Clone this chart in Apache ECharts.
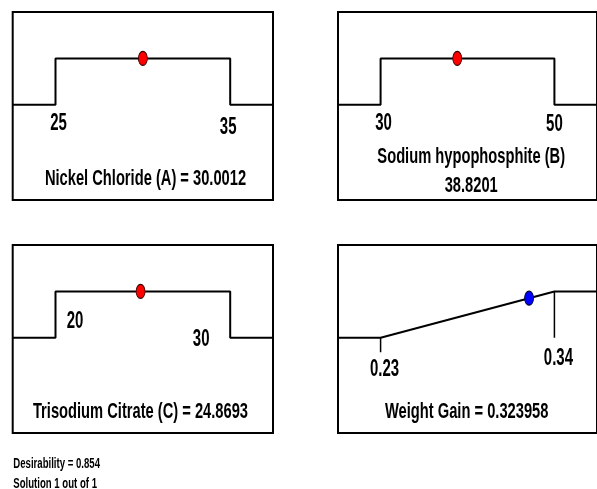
<!DOCTYPE html>
<html>
<head>
<meta charset="utf-8">
<script src="https://cdn.jsdelivr.net/npm/echarts@6/dist/echarts.min.js"></script>
<style>
  html, body { margin: 0; padding: 0; background: #fff; }
  #chart { width: 597px; height: 489px; }
</style>
</head>
<body>
<div id="chart"></div>
<script>
// Factor names, target ranges and optimum settings
const factorNames = ['Nickel Chloride (A)', 'Sodium hypophosphite (B)', 'Trisodium Citrate (C)'];
const factorRanges = [[25, 35], [30, 50], [20, 30]];
const factorValues = [30.0012, 38.8201, 24.8693];
const factorTickLabels = [['25', '35'], ['30', '50'], ['20', '30']];

// Response: ramp from low to high goal
const responseName = 'Weight Gain';
const responseRange = [0.23, 0.34];
const responseValue = 0.323958;
const responseTickLabels = ['0.23', '0.34'];

const desirability = 0.854;
const solutionText = ['Solution 1 out of 1'];

// ---- layout ----
const FONT = "'Liberation Sans', Arial, sans-serif";
const grids = [
  { left: 12.7, top: 12, width: 260.3, height: 188 },
  { left: 338, top: 12, width: 260, height: 188 },
  { left: 12.7, top: 245, width: 260.3, height: 188 },
  { left: 338, top: 245, width: 260, height: 188 }
];
const PAD = 0.245;          // axis padding each side, as a share of the range span
const Y_MIN = -2.05, Y_MAX = 2.0;
const RESP_TICK_LEN = 0.31; // length of the low-goal tick below the ramp

// pixel offsets of each pair of range labels from their anchor points
const tickOffsets = [
  [[3, 19], [-2, 23]],
  [[3, 18.5], [0, 20]],
  [[19.5, -16.5], [-29, 2]],
  [[4, 31.5], [4, 20.5]]
];
// title anchors (absolute px); each title may have several lines
const titleLayout = [
  [[145.5, 178.3]],
  [[471.2, 156.7], [471.2, 186]],
  [[140.5, 411.7]],
  [[466.7, 411.7]]
];

const ELLIPSE = 'path://M0,5A5,5 0 1,0 10,5A5,5 0 1,0 0,5Z';

function axisBounds(r) {
  const span = r[1] - r[0];
  return [r[0] - PAD * span, r[1] + PAD * span];
}

const xAxes = [], yAxes = [], series = [];
const allRanges = factorRanges.concat([responseRange]);

allRanges.forEach(function (r, i) {
  const b = axisBounds(r);
  xAxes.push({ gridIndex: i, type: 'value', min: b[0], max: b[1], show: false });
  yAxes.push({ gridIndex: i, type: 'value', min: Y_MIN, max: Y_MAX, show: false });
});

const lineStyle = { color: '#000', width: 2 };

// step curves for the factors: desirability 1 inside the range, 0 outside
factorRanges.forEach(function (r, i) {
  const b = axisBounds(r);
  series.push({
    type: 'line', xAxisIndex: i, yAxisIndex: i, symbol: 'none',
    lineStyle: lineStyle, silent: true,
    data: [[b[0], 0], [r[0], 0], [r[0], 1], [r[1], 1], [r[1], 0], [b[1], 0]]
  });
  series.push({
    type: 'scatter', xAxisIndex: i, yAxisIndex: i,
    symbol: ELLIPSE, symbolSize: [9, 14],
    itemStyle: { color: '#ff0000', borderColor: '#300', borderWidth: 1, opacity: 1 },
    data: [[factorValues[i], 1]], z: 5
  });
});

// ramp for the response
(function () {
  const r = responseRange, b = axisBounds(r);
  series.push({
    type: 'line', xAxisIndex: 3, yAxisIndex: 3, symbol: 'none',
    lineStyle: lineStyle, silent: true,
    data: [[b[0], 0], [r[0], 0], [r[1], 1], [b[1], 1]]
  });
  series.push({
    type: 'line', xAxisIndex: 3, yAxisIndex: 3, symbol: 'none',
    lineStyle: { color: '#000', width: 1.5 }, silent: true,
    data: [[r[0], 0], [r[0], -RESP_TICK_LEN]]
  });
  series.push({
    type: 'line', xAxisIndex: 3, yAxisIndex: 3, symbol: 'none',
    lineStyle: { color: '#000', width: 1.5 }, silent: true,
    data: [[r[1], 1], [r[1], 0]]
  });
  series.push({
    type: 'scatter', xAxisIndex: 3, yAxisIndex: 3,
    symbol: ELLIPSE, symbolSize: [9, 14],
    itemStyle: { color: '#0000ff', borderColor: '#003', borderWidth: 1, opacity: 1 },
    data: [[responseValue, desirability]], z: 5
  });
})();

const chart = echarts.init(document.getElementById('chart'), null, { renderer: 'canvas' });
chart.setOption({
  animation: false,
  backgroundColor: '#fff',
  grid: grids.map(function (g) {
    return Object.assign({ show: true, borderColor: '#000', borderWidth: 2, backgroundColor: 'transparent' }, g);
  }),
  xAxis: xAxes,
  yAxis: yAxes,
  series: series
});

// stretched bold text, as used throughout the panels
function stretchedText(text, x, y, size, scaleY, align) {
  return {
    type: 'text', x: x, y: y, scaleY: scaleY, silent: true, z: 10,
    style: {
      text: text, x: 0, y: 0, fill: '#000',
      font: 'bold ' + size + 'px ' + FONT,
      align: align || 'center', verticalAlign: 'middle'
    }
  };
}

const graphics = [];

// range labels, placed through each grid's scales
allRanges.forEach(function (r, i) {
  const labels = i < 3 ? factorTickLabels[i] : responseTickLabels;
  [0, 1].forEach(function (k) {
    const p = chart.convertToPixel({ gridIndex: i }, [r[k], 0]);
    const off = tickOffsets[i][k];
    graphics.push(stretchedText(labels[k], p[0] + off[0], p[1] + off[1], 15, 1.6));
  });
});

// panel titles
const titleTexts = [
  [factorNames[0] + ' = ' + factorValues[0]],
  [factorNames[1], String(factorValues[1])],
  [factorNames[2] + ' = ' + factorValues[2]],
  [responseName + ' = ' + responseValue]
];
titleTexts.forEach(function (lines, i) {
  lines.forEach(function (t, j) {
    const pos = titleLayout[i][j];
    graphics.push(stretchedText(t, pos[0], pos[1], 14.7, 1.55));
  });
});

// footer
graphics.push(stretchedText('Desirability = ' + desirability, 13.3, 463.5, 9.6, 1.6, 'left'));
graphics.push(stretchedText(solutionText[0], 13.3, 483.5, 9.6, 1.6, 'left'));

chart.setOption({ graphic: graphics });
</script>
</body>
</html>
